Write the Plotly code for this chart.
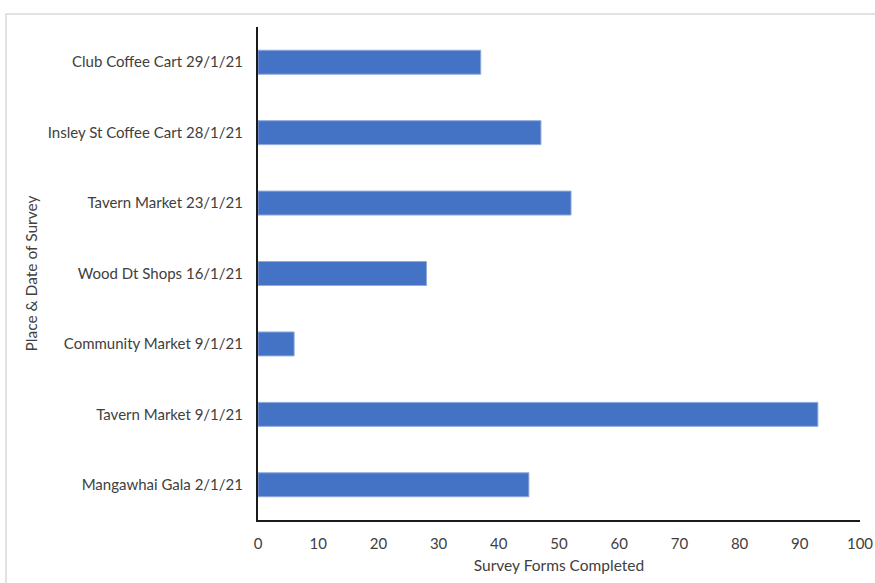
import plotly.graph_objects as go

# Survey locations (bottom to top) and completed form counts
places = [
    "Mangawhai Gala 2/1/21",
    "Tavern Market 9/1/21",
    "Community Market 9/1/21",
    "Wood Dt Shops 16/1/21",
    "Tavern Market 23/1/21",
    "Insley St Coffee Cart 28/1/21",
    "Club Coffee Cart 29/1/21",
]
forms_completed = [45, 93, 6, 28, 52, 47, 37]
x_ticks = [0, 10, 20, 30, 40, 50, 60, 70, 80, 90, 100]

W, H = 875, 583
L, R, T, B = 258, 15, 27, 63
pw, ph = W - L - R, H - T - B
TXT = "#404040"

fig = go.Figure(
    go.Bar(
        x=forms_completed,
        y=places,
        orientation="h",
        width=0.34,
        marker=dict(color="#4472C4", line=dict(color="#8FAADC", width=1)),
        hoverinfo="x+y",
    )
)

fig.update_layout(
    width=W,
    height=H,
    margin=dict(l=L, r=R, t=T, b=B),
    paper_bgcolor="white",
    plot_bgcolor="white",
    font=dict(family="Lato, 'Open Sans', sans-serif", size=15, color=TXT),
    showlegend=False,
    xaxis=dict(
        range=[0, 100],
        tickvals=x_ticks,
        showgrid=False,
        zeroline=False,
        showline=True,
        linecolor="#1a1a1a",
        linewidth=2,
        ticks="",
        automargin=False,
        ticklabelstandoff=9,
        tickfont=dict(size=15, color=TXT),
        title=dict(text="Survey Forms Completed", font=dict(size=15.5, color=TXT), standoff=9),
    ),
    yaxis=dict(
        categoryorder="array",
        categoryarray=places,
        range=[-0.5, len(places) - 0.5],
        showgrid=False,
        zeroline=False,
        showline=True,
        linecolor="#1a1a1a",
        linewidth=2,
        ticks="",
        automargin=False,
        ticklabelstandoff=10,
        tickfont=dict(size=15, color=TXT),
        title=dict(text="Place & Date of Survey", font=dict(size=15.5, color=TXT), standoff=6),
    ),
)

# Light frame around the chart area
fig.add_shape(
    type="rect",
    xref="paper",
    yref="paper",
    x0=(6 - L) / pw,
    x1=(W + 10 - L) / pw,
    y0=-(B + 10) / ph,
    y1=1 + (T - 14) / ph,
    line=dict(color="#D9D9D9", width=1.5),
    fillcolor="rgba(0,0,0,0)",
    layer="below",
)

fig.write_html("out.html")
